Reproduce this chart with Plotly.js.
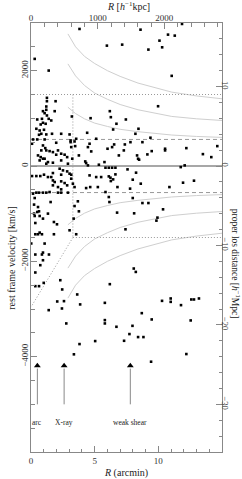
<!DOCTYPE html>
<html><head><meta charset="utf-8">
<script src="https://cdn.plot.ly/plotly-3.0.1.min.js"></script>
<style>html,body{margin:0;padding:0;background:#fff;}#chart{width:242px;height:479px;}</style>
</head><body><div id="chart"></div>
<script>
// Galaxies: projected radius (arcmin) and rest-frame velocity (km/s)
const galR = [
3.81,5.96,0.29,1.39,1.25,1.25,1.93,1.20,0.94,1.20,1.86,1.07,1.25,0.86,1.39,3.21,4.68,
8.60,11.86,10.76,11.29,7.16,10.09,10.30,9.22,11.05,
9.98,6.19,6.27,7.45,6.71,6.45,8.44,8.20,9.38,6.01,6.37,6.53,6.90,7.29,7.37,7.81,8.33,8.41,8.49,8.75,9.14,9.48,10.53,10.53,12.20,13.50,14.16,14.63,
5.85,6.11,6.37,6.63,7.58,8.25,11.76,12.07,6.11,6.24,6.45,6.63,6.27,7.99,8.62,6.79,7.78,10.87,11.94,12.80,5.85,
6.11,6.16,7.99,8.75,9.22,6.76,8.10,10.37,9.93,9.85,7.42,
6.19,5.80,8.07,8.23,10.29,10.97,10.97,11.78,12.59,12.80,13.19,8.70,9.48,5.80,5.80,6.71,7.97,12.54,7.73,8.41,8.83,7.31,12.20,9.43,
1.39,2.43,2.77,3.81,3.37,5.04,
0.24,0.49,0.63,0.29,0.68,0.94,1.33,1.80,2.04,0.34,3.03,3.35,3.76,3.55,0.34,0.55,0.68,0.86,1.80,0.02,1.07,0.34,0.86,0.94,1.41,0.94,0.73,0.34,2.30,1.00,0.34,0.63,2.45,3.63,2.06,2.59,3.86,
0.49,1.59,0.94,0.76,1.15,0.42,0.68,1.02,0.81,0.63,1.20,1.65,2.37,3.03,0.16,0.49,1.07,3.11,3.42,3.55,4.41,5.12,
0.08,0.94,1.12,1.98,3.11,3.16,3.47,4.47,4.60,4.73,0.81,1.20,1.46,1.72,2.12,2.37,2.84,0.55,0.76,0.94,0.68,1.07,1.98,2.64,3.76,4.26,
1.33,1.20,1.72,2.37,2.90,3.24,4.33,4.47,5.33,5.77,
0.08,0.42,0.73,1.02,1.33,1.59,1.72,2.25,2.51,2.84,3.03,3.16,2.37,4.60,5.12,5.51,
1.72,1.86,2.37,2.64,2.84,1.72,2.12,2.37,3.16,3.29,3.42,4.65,4.33,5.25,
0.16,0.42,0.63,0.94,1.20,1.46,2.12,2.37,2.90,0.29,0.24,0.55,1.54,3.68,3.42
];
const galV = [
2875,2525,2247,2002,1430,1359,1359,1248,1150,1179,1150,1108,1060,990,990,1039,1003,
2860,2980,2756,2735,2546,2630,2490,2442,1891,
1254,1150,1024,976,886,766,781,676,593,362,396,452,222,327,452,500,222,153,132,500,243,312,362,327,375,249,186,417,
-36,-36,-36,-36,-71,-140,-23,13,-218,-245,-281,-176,-316,-287,-371,-442,-475,-442,-350,-308,-546,
-651,-756,-672,-777,-777,-978,-993,-909,-1083,-1146,-1328,
-2479,-2871,-2151,-2222,-2829,-2779,-2850,-2919,-2800,-2800,-2779,-3087,-3219,-3233,-3303,-3373,-3353,-3240,-3526,-3589,-3589,-3667,-3945,-4106,
-3024,-2989,-3303,-3736,-3951,-3673,
-999,-965,-951,-1049,-1049,-1104,-999,-1175,-1223,-1196,-1349,-1104,-951,-1432,-1432,-1432,-1397,-1432,-1432,-1627,-1627,-1857,-1857,-1816,-1857,-1977,-2081,-2234,-2396,-2452,-2521,-2521,-2590,-2695,-2842,-2835,-2904,
976,955,907,871,886,781,745,760,676,655,662,676,676,662,557,557,557,536,515,571,697,571,
467,431,375,488,500,396,417,396,467,306,327,327,312,291,327,258,186,222,186,153,117,153,237,237,222,96,
82,48,69,117,48,153,61,13,27,82,
-211,-211,-211,-182,-232,-232,-148,-57,-92,-113,-161,-182,-182,-197,-232,-232,
-302,-337,-322,-358,-406,-406,-442,-490,-266,-371,-442,-442,-463,-442,
-580,-559,-559,-559,-559,-546,-559,-559,-559,-672,-810,-861,-756,-741,-840
];

// Caustic-like curves (upper branch; lower branch is mirrored)
const curveR = [2.9,3.5,4.2,5.0,6.0,7.0,8.4,10.0,11.05,13.0,15.0];
const curveA = [2771,2500,2300,2150,2000,1880,1740,1620,1550,1470,1410];
const curveB = [2142,1890,1690,1530,1400,1290,1180,1090,1040,990,955];
const curveC = [1233,1100,990,900,830,770,720,680,650,620,600];

// Reference lines
const dispV = 557;          // dashed lines at +/- this velocity
const boxV = 1500;          // dotted lines
const boxR = 3.29;          // dotted vertical
const diagEndV = -2960;     // dotted diagonal end at R=0

// Arrows
const arrowR = [0.5, 2.6, 7.8];
const arrowLabels = ['arc', 'X-ray', 'weak shear'];
const arrowTailV = -5000, arrowHeadV = -4190, labelV = -5380;

// Axis ranges and ticks
const xRange = [0, 15], yRange = [-6000, 3000];
const kpcRange = [0, 2865], mpcRange = [-36, 18];
const bottomTicks = [0, 5, 10], bottomText = ['0', '5', '10'];
const leftTicks = [-4000, -2000, 0, 2000], leftText = ['\u22124000', '\u22122000', '0', '2000'];
const topTicks = [0, 1000, 2000], topText = ['0', '1000', '2000'];
const rightTicks = [-30, -20, -10, 0, 10], rightText = ['\u221230', '\u221220', '\u221210', '0', '10'];

const F = 'Liberation Serif, Times New Roman, serif';
const gray = '#999';
const traces = [];
function line(x, y, color, width, dash) {
  traces.push({type:'scatter', mode:'lines', x:x, y:y, line:{color:color, width:width, dash:dash||'solid'}, hoverinfo:'skip', showlegend:false});
}
// curves
[curveA, curveB, curveC].forEach(c => {
  line(curveR, c, '#cfcfcf', 1);
  line(curveR, c.map(v => -v), '#cfcfcf', 1);
});
// zero line
line(xRange, [0, 0], '#8a8a8a', 1.3);
// dashed
line(xRange, [dispV, dispV], gray, 1, '4px,3px');
line(xRange, [-dispV, -dispV], gray, 1, '4px,3px');
// dotted box
line(xRange, [boxV, boxV], gray, 1, '1px,2px');
line([boxR, xRange[1]], [-boxV, -boxV], gray, 1, '1px,2px');
line([boxR, boxR], [boxV, -boxV], gray, 1, '1px,2px');
line([boxR, 0], [-boxV, diagEndV], gray, 1, '1px,2px');
// arrows
arrowR.forEach(r => line([r, r], [arrowTailV, arrowHeadV - 60], '#888', 1));
traces.push({type:'scatter', mode:'markers', x:arrowR, y:arrowR.map(() => arrowHeadV),
  marker:{symbol:'triangle-up', size:6, color:'#000'}, hoverinfo:'skip', showlegend:false});
// galaxies
traces.push({type:'scatter', mode:'markers', x:galR, y:galV,
  marker:{symbol:'square', size:2.6, color:'#000', line:{width:0}}, hoverinfo:'skip', showlegend:false});
// secondary axes holder
traces.push({type:'scatter', mode:'markers', x:[null], y:[null], xaxis:'x2', yaxis:'y2', showlegend:false, hoverinfo:'skip'});

const axBase = {showgrid:false, zeroline:false, showline:true, linecolor:'#888', linewidth:1,
  ticks:'inside', ticklen:6, tickcolor:'#888', tickwidth:1, tickmode:'array',
  tickfont:{family:F, size:9, color:'#333'}, fixedrange:true};

const titleFont = {family:F, size:10, color:'#222'};
const layout = {
  width:242, height:479, margin:{l:31, r:20, t:23, b:27},
  paper_bgcolor:'#fff', plot_bgcolor:'#fff', showlegend:false,
  xaxis:Object.assign({}, axBase, {range:xRange, tickvals:bottomTicks, ticktext:bottomText,
    minor:{dtick:1, tick0:0, ticks:'inside', ticklen:3.5, tickcolor:'#888'}}),
  yaxis:Object.assign({}, axBase, {range:yRange, tickvals:leftTicks, ticktext:leftText, tickangle:-90,
    ticklabelstandoff:-2,
    minor:{dtick:500, tick0:0, ticks:'inside', ticklen:3.5, tickcolor:'#888'}}),
  xaxis2:Object.assign({}, axBase, {range:kpcRange, overlaying:'x', side:'top', anchor:'y',
    tickvals:topTicks, ticktext:topText, ticklabelstandoff:-3,
    minor:{dtick:200, tick0:0, ticks:'inside', ticklen:3.5, tickcolor:'#888'}}),
  yaxis2:Object.assign({}, axBase, {range:mpcRange, overlaying:'y', side:'right', anchor:'x',
    tickvals:rightTicks, ticktext:rightText, tickangle:90, ticklabelstandoff:-4,
    tickfont:{family:F, size:8.5, color:'#333'},
    minor:{dtick:2, tick0:0, ticks:'inside', ticklen:3.5, tickcolor:'#888'}}),
  annotations:[
    {xref:'paper', yref:'paper', x:-0.099, y:0.453, xanchor:'center', yanchor:'middle',
     text:'rest frame velocity [km/s]', textangle:-90, showarrow:false, font:titleFont},
    {xref:'paper', yref:'paper', x:1.073, y:0.439, xanchor:'center', yanchor:'middle',
     text:'proper los distance [<i>h</i><sup>\u22121</sup>Mpc]', textangle:90, showarrow:false,
     font:{family:F, size:9.5, color:'#222'}},
    {xref:'paper', yref:'paper', x:0.512, y:1.040, xanchor:'center', yanchor:'middle',
     text:'<i>R</i> [<i>h</i><sup>\u22121</sup>kpc]', showarrow:false, font:titleFont},
    {xref:'paper', yref:'paper', x:0.497, y:-0.050, xanchor:'center', yanchor:'middle',
     text:'<i>R</i> (arcmin)', showarrow:false, font:titleFont}
  ].concat(arrowR.map((r, i) => ({xref:'x', yref:'y', x:r, y:labelV, xanchor:'center', yanchor:'middle',
     text:arrowLabels[i], showarrow:false, font:{family:F, size:7.5, color:'#222'}})))
};
Plotly.newPlot('chart', traces, layout, {staticPlot:true, displayModeBar:false});
</script></body></html>
